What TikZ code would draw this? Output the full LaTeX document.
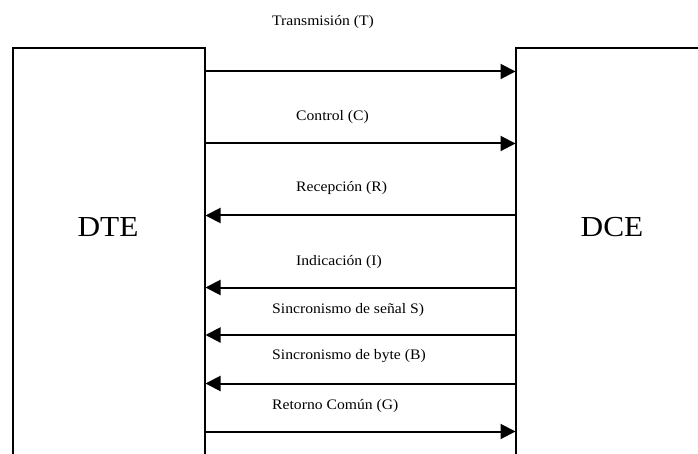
\documentclass[tikz,border=0pt]{standalone}
\usepackage{fontspec}
\setmainfont{Liberation Serif}[FakeStretch=1.08]
\usetikzlibrary{arrows.meta}
\begin{document}
\begin{tikzpicture}[x=1pt,y=-1pt,
  box/.style={draw=black, line width=2pt, anchor=north west, inner sep=0pt},
  arr/.style={line width=2pt, -{Triangle[length=15pt,width=15pt]}, shorten >=-0.5pt},
  lbl/.style={anchor=west, inner sep=0pt, font=\fontsize{14.5}{16}\selectfont},
  big/.style={inner sep=0pt, font=\fontsize{29}{32}\selectfont}]
\clip (0,0) rectangle (698,454);
\fill[white] (0,0) rectangle (698,454);
\node[box, minimum width=192pt, minimum height=440pt] (dte) at (12,47.5) {};
\node[box, minimum width=240pt, minimum height=440pt] (dce) at (515,47.5) {};
\node[big] (dtel) at (108,227) {DTE};
\node[big] (dcel) at (612,227) {DCE};
\node[lbl] (lt) at (272,22) {Transmisión (T)};
\node[lbl] (lc) at (296,117) {Control (C)};
\node[lbl] (lr) at (296,188) {Recepción (R)};
\node[lbl] (li) at (296,262) {Indicación (I)};
\node[lbl] (ls) at (272,310) {Sincronismo de señal S)};
\node[lbl] (lb) at (272,356) {Sincronismo de byte (B)};
\node[lbl] (lg) at (272,406) {Retorno Común (G)};
\draw[arr] (dte.east |- 0,71.5) -- (dce.west |- 0,71.5);
\draw[arr] (dte.east |- 0,143.5) -- (dce.west |- 0,143.5);
\draw[arr] (dce.west |- 0,215.5) -- (dte.east |- 0,215.5);
\draw[arr] (dce.west |- 0,287.5) -- (dte.east |- 0,287.5);
\draw[arr] (dce.west |- 0,335) -- (dte.east |- 0,335);
\draw[arr] (dce.west |- 0,383.5) -- (dte.east |- 0,383.5);
\draw[arr] (dte.east |- 0,431.5) -- (dce.west |- 0,431.5);
\end{tikzpicture}
\end{document}
